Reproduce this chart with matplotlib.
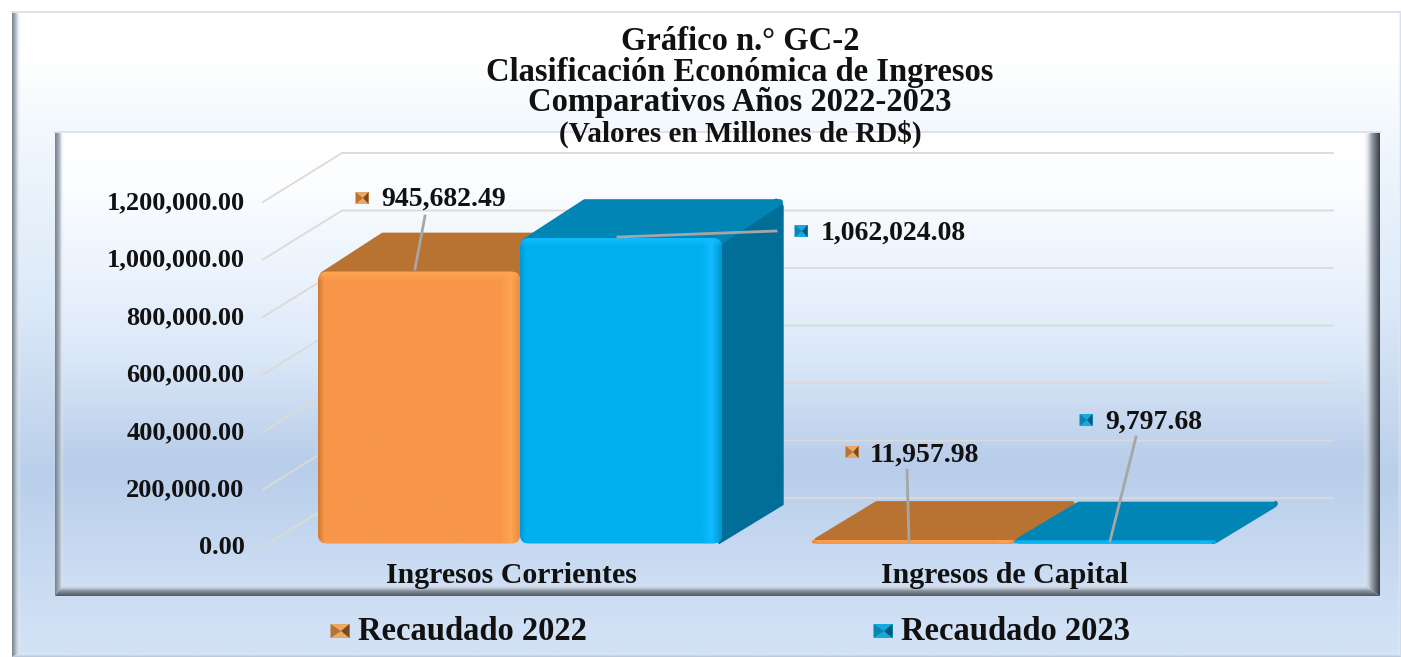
#!/usr/bin/env python3
# -*- coding: utf-8 -*-
import numpy as np
import matplotlib
matplotlib.use("Agg")
import matplotlib.pyplot as plt
from matplotlib.colors import LinearSegmentedColormap
from matplotlib.patches import FancyBboxPatch, Polygon, Rectangle

plt.rcParams["font.family"] = ["Liberation Serif", "DejaVu Serif"]
plt.rcParams["font.weight"] = "bold"

# Datos
categorias = ["Ingresos Corrientes", "Ingresos de Capital"]
recaudado_2022 = [945682.49, 11957.98]
recaudado_2023 = [1062024.08, 9797.68]
series = ["Recaudado 2022", "Recaudado 2023"]
ticks_y = [0, 200000, 400000, 600000, 800000, 1000000, 1200000]

W, H = 1401, 657
TXT = "#111111"

# Medidas del falso 3D, en pixeles
X_UNIT = 494.0
Y_MAX = 1200000.0
Y_PX = 345.0
BAR_W = 202.0
BAR_DX, BAR_DY = 61.0, 39.0
WALL_DX, WALL_DY = 79.0, 47.0

fig = plt.figure(figsize=(W / 100, H / 100), dpi=100, facecolor="white")


def full_axes(z):
    a = fig.add_axes([0, 0, 1, 1], zorder=z)
    a.set_xlim(0, W)
    a.set_ylim(H, 0)
    a.axis("off")
    return a


def gradiente(a, extent, stops, vertical=True, clip=None, z=1):
    # rellena un rectangulo con un degradado y lo recorta si hace falta
    cmap = LinearSegmentedColormap.from_list("g", stops)
    g = np.linspace(0, 1, 256)
    g = g[:, None] if vertical else g[None, :]
    im = a.imshow(g, extent=extent, cmap=cmap, aspect="auto", origin="upper",
                  vmin=0, vmax=1, zorder=z, interpolation="bilinear")
    if clip is not None:
        im.set_clip_path(clip)
    return im


def bisel(a, pts, stops, vertical):
    xs = [p[0] for p in pts]
    ys = [p[1] for p in pts]
    poly = Polygon(pts, closed=True, facecolor="none", edgecolor="none", transform=a.transData)
    a.add_patch(poly)
    gradiente(a, (min(xs), max(xs), max(ys), min(ys)), stops, vertical, clip=poly, z=3)


def marco(a, x0, y0, x1, y1, b, fondo, izq, der, inf):
    # panel con degradado y cuatro biseles; b = (izq, sup, der, inf)
    gradiente(a, (x0, x1, y1, y0), fondo, z=2)
    bi, bs, bd, bb = b
    bisel(a, [(x0, y0), (x0 + bi, y0 + bs), (x0 + bi, y1 - bb), (x0, y1)], izq, False)
    bisel(a, [(x1, y0), (x1 - bd, y0 + bs), (x1 - bd, y1 - bb), (x1, y1)], der, False)
    bisel(a, [(x0, y1), (x0 + bi, y1 - bb), (x1 - bd, y1 - bb), (x1, y1)], inf, True)
    a.plot([x0, x1], [y0, y0], color="#dfe3e8", lw=1.4, zorder=4)


def marcador(a, cx, cy, w, h, claro, medio, oscuro):
    # cuadrito de leyenda con relieve
    x0, x1, y0, y1 = cx - w / 2, cx + w / 2, cy - h / 2, cy + h / 2
    a.add_patch(Rectangle((x0, y0), w, h, color=claro, lw=0, zorder=8))
    c = (cx + 1, cy)
    a.add_patch(Polygon([(x1, y0), c, (x1, y1)], color=oscuro, lw=0, zorder=9))
    a.add_patch(Polygon([(x0, y0), c, (x0, y1)], color=medio, lw=0, zorder=9))


ax_bg = full_axes(0)
ax_top = full_axes(5)

# panel exterior: llega hasta los bordes derecho e inferior de la imagen
marco(ax_bg, 12, 12, W, H, (9, 2, 3, 5),
      [(0, "#ffffff"), (0.07, "#ffffff"), (0.2, "#f0f7fd"), (0.45, "#dce9f8"),
       (0.72, "#b9cfea"), (0.97, "#d2e2f6"), (1, "#d2e2f6")],
      [(0, "#76808c"), (0.45, "#b4bfcc"), (1, "#ffffff00")],
      [(0, "#ffffff00"), (1, "#c6d4e6")],
      [(0, "#ffffff00"), (1, "#b3c2d6")])
# panel interior
marco(ax_bg, 55, 132, 1380, 596, (9, 2, 17, 12),
      [(0, "#ffffff"), (0.12, "#fbfdff"), (0.45, "#dfebfa"), (0.72, "#b8cde9"), (1, "#cfe0f5")],
      [(0, "#76808c"), (0.5, "#aab4c0"), (1, "#ffffff00")],
      [(0, "#ffffff00"), (0.5, "#98a0aa"), (1, "#353c45")],
      [(0, "#ffffff00"), (0.55, "#8a929d"), (1, "#4f5763")])

# Ejes del plano frontal: el 0 cae en y=545 y 1,200,000 en y=200
ax_left, ax_right = 246.0, 1340.0
cat_px = 511.0
ax = fig.add_axes([ax_left / W, (H - 545) / H, (ax_right - ax_left) / W, Y_PX / H], zorder=2)
ax.patch.set_alpha(0)
ax.set_xlim((ax_left - cat_px) / X_UNIT, (ax_right - cat_px) / X_UNIT)
ax.set_ylim(0, Y_MAX)
for s in ax.spines.values():
    s.set_visible(False)


def px_x(n):
    return n / X_UNIT


def px_y(n):
    return n * Y_MAX / Y_PX


ax.set_yticks(ticks_y)
ax.set_yticklabels([f"{t:,.2f}" for t in ticks_y], fontsize=19, fontweight="bold", color=TXT)
ax.set_xticks([0, 1])
ax.set_xticklabels(categorias, fontsize=21.5, fontweight="bold", color=TXT)
ax.tick_params(axis="both", length=0)
ax.tick_params(axis="y", pad=1)
ax.tick_params(axis="x", pad=12)

# Rejilla: diagonal en el lateral y horizontal en el fondo
xg = ax.get_xlim()[0] + px_x(263 - ax_left)
for t in ticks_y:
    y_f = t - px_y(2)
    y_b = t + px_y(WALL_DY)
    ax.plot([xg, xg + px_x(WALL_DX), ax.get_xlim()[0] + px_x(1333 - ax_left)],
            [y_f, y_b, y_b], color="#dcdad6", lw=1.3, clip_on=False, zorder=1)

colores = [
    {"frente": [(0, "#d07a35"), (0.03, "#f8964a"), (0.9, "#f8964a"), (0.95, "#ffa552"), (1, "#e88a40")],
     "brillo": "#ffa552", "tope": "#b87333"},
    {"frente": [(0, "#009bd6"), (0.03, "#00b0f0"), (0.9, "#00b0f0"), (0.95, "#10bcff"), (1, "#0096cf")],
     "brillo": "#12bdff", "tope": "#0085b5"},
]
LADO = "#006e96"

LIFT = 1.5
for i, vals in enumerate([recaudado_2022, recaudado_2023]):
    c = colores[i]
    for j, v in enumerate(vals):
        x0 = j + px_x(9) + (i - 1) * px_x(BAR_W)
        x1 = x0 + px_x(BAR_W)
        y0 = px_y(LIFT)
        y1 = v + px_y(LIFT)
        dx, dy = px_x(BAR_DX), px_y(BAR_DY)
        # lado derecho, solo se ve el de la serie de delante; esquina de atras achaflanada
        if i == 1:
            ch = min(7.0, (y1 - y0) / px_y(1) / 2)
            ax.add_patch(Polygon([(x1 - px_x(3), y0), (x1 + dx, y0 + dy), (x1 + dx, y1 + dy - px_y(ch)),
                                  (x1 + dx - px_x(ch * 0.3), y1 + dy - px_y(ch * 0.3)),
                                  (x1 + dx - px_x(ch), y1 + dy), (x1 - px_x(3), y1)],
                                 closed=True, facecolor=LADO, edgecolor=LADO, lw=1,
                                 clip_on=False, zorder=3 + i))
        # tope con esquinas redondeadas (linea gruesa sobre poligono reducido)
        y_f = max(y1 - px_y(3), y0 + px_y(3))
        ax.add_patch(Polygon([(x0 + px_x(5), y_f), (x0 + dx + px_x(4), y1 + dy - px_y(3)),
                              (x1 + dx - px_x(3), y1 + dy - px_y(3)), (x1 - px_x(1), y_f)],
                             closed=True, facecolor=c["tope"], edgecolor=c["tope"], lw=4.3,
                             joinstyle="round", clip_on=False, zorder=3 + i))
        # frente redondeado con degradado
        asp = px_y(1) / px_x(1)
        r = min(px_x(9), (y1 - y0) / asp / 2)
        caja = FancyBboxPatch((x0 + r, y0 + r * asp), x1 - x0 - 2 * r, y1 - y0 - 2 * r * asp,
                              boxstyle=f"round,pad={r},rounding_size={r}", mutation_aspect=asp,
                              facecolor=c["frente"][1][1], edgecolor="none", clip_on=False,
                              zorder=3.5 + i)
        ax.add_patch(caja)
        gradiente(ax, (x0, x1, y0, y1), c["frente"], vertical=False, clip=caja, z=3.6 + i)
        # brillo del borde superior
        gradiente(ax, (x0, x1, max(y0, y1 - px_y(9)), y1),
                  [(0, c["brillo"]), (1, c["brillo"] + "00")], vertical=True, clip=caja, z=3.7 + i)
ax.set_xlim((ax_left - cat_px) / X_UNIT, (ax_right - cat_px) / X_UNIT)
ax.set_ylim(0, Y_MAX)

# Titulo
ax_top.text(740, 41, "Gráfico n.° GC-2", ha="center", va="center", fontsize=23.5, color=TXT)
ax_top.text(740, 72, "Clasificación Económica de Ingresos", ha="center", va="center", fontsize=23.5, color=TXT)
ax_top.text(740, 103, "Comparativos Años 2022-2023", ha="center", va="center", fontsize=23.5, color=TXT)
ax_top.text(740, 134, "(Valores en Millones de RD$)", ha="center", va="center", fontsize=21, color=TXT)

# Etiquetas de datos con su guia, en orden de serie y categoria
NAR = ("#e9a868", "#b87333", "#7d4a1d")
AZU = ("#16a9e0", "#0a84b0", "#04587a")
etiquetas = [
    (recaudado_2022[0], NAR, (362, 198), (381, 199), ((415, 269), (425, 216))),
    (recaudado_2023[0], AZU, (801, 231), (821, 233), ((618, 237), (776, 231))),
    (recaudado_2022[1], NAR, (852, 452), (870, 455), ((909, 541), (907, 470))),
    (recaudado_2023[1], AZU, (1086, 420), (1105, 422), ((1110, 541), (1136, 437))),
]
for v, pal, m, t, g in etiquetas:
    ax_top.plot([g[0][0], g[1][0]], [g[0][1], g[1][1]], color="#a6a6a6", lw=2, zorder=7)
    marcador(ax_top, m[0], m[1], 13, 12, *pal)
    ax_top.text(t[0], t[1], f"{v:,.2f}", ha="left", va="center", fontsize=20, color=TXT)

# Leyenda
marcador(ax_top, 340, 631, 19, 14, *NAR)
ax_top.text(358, 631, series[0], ha="left", va="center", fontsize=23.5, color=TXT)
marcador(ax_top, 883, 631, 19, 14, *AZU)
ax_top.text(901, 631, series[1], ha="left", va="center", fontsize=23.5, color=TXT)

fig.savefig("out.png", dpi=100)
